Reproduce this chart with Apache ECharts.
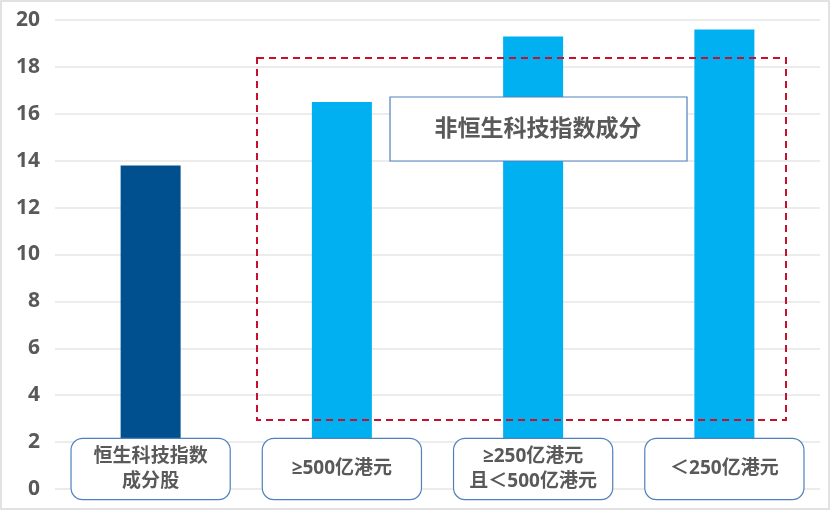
<!DOCTYPE html>
<html><head><meta charset="utf-8">
<script src="https://cdn.jsdelivr.net/npm/echarts@6/dist/echarts.min.js"></script>
<style>html,body{margin:0;padding:0;background:#fff}#c{width:831px;height:512px}</style>
</head><body><div id="c"></div>
<script>
const categories = ['恒生科技指数\n成分股', '≥500亿港元', '≥250亿港元\n且＜500亿港元', '＜250亿港元'];
const values = [13.8, 16.5, 19.3, 19.6];
const barColors = ['#00508F', '#00B0F0', '#00B0F0', '#00B0F0'];
const yTicks = { min: 0, max: 20, interval: 2 };
const boxTitle = '非恒生科技指数成分';

const FONT = '"Open Sans","Noto Sans CJK SC",sans-serif';
const chart = echarts.init(document.getElementById('c'));
chart.setOption({
  animation: false,
  grid: { left: 55, right: 11, top: 20, bottom: 23 },
  xAxis: {
    type: 'category', data: categories, z: 10,
    axisLine: { show: false }, axisTick: { show: false },
    axisLabel: {
      margin: -50, interval: 0,
      color: '#595959', fontSize: 19, fontWeight: 'bold', fontFamily: FONT,
      align: 'center', verticalAlign: 'top',
      backgroundColor: '#fff', borderColor: '#4F81BD', borderWidth: 1.2, borderRadius: 11,
      width: 152, padding: [5, 3, 5, 3],
      formatter: function (v) {
        const lines = v.split('\n');
        return lines.length === 1 ? '{a|' + v + '}' : lines.map(l => '{b|' + l + '}').join('\n');
      },
      rich: {
        a: { lineHeight: 50, fontSize: 19, fontWeight: 'bold', color: '#595959', fontFamily: FONT },
        b: { lineHeight: 25, fontSize: 19, fontWeight: 'bold', color: '#595959', fontFamily: FONT }
      }
    }
  },
  yAxis: {
    type: 'value', min: yTicks.min, max: yTicks.max, interval: yTicks.interval,
    axisLine: { show: false }, axisTick: { show: false },
    splitLine: { lineStyle: { color: '#E6E6E6', width: 1.5 } },
    axisLabel: { color: '#595959', fontSize: 21, fontWeight: 'bold', fontFamily: FONT, margin: 15 }
  },
  series: [{
    type: 'bar', barWidth: 60, z: 2,
    data: values.map((v, i) => ({ value: v, itemStyle: { color: barColors[i] } }))
  }],
  graphic: [
    { type: 'rect', shape: { x: 1, y: 1, width: 828, height: 508 }, style: { fill: 'none', stroke: '#D9D9D9', lineWidth: 1.5 }, z: 0 },
    { type: 'rect', shape: { x: 257, y: 58, width: 529, height: 362 }, style: { fill: 'none', stroke: '#C8102E', lineWidth: 2, lineDash: [7, 5] }, z: 20 },
    { type: 'rect', shape: { x: 390, y: 97, width: 297, height: 64 }, style: { fill: '#fff', stroke: '#4F81BD', lineWidth: 1.2 }, z: 21 },
    { type: 'text', x: 538, y: 129, style: { text: boxTitle, fill: '#595959', font: 'bold 23px ' + FONT, textAlign: 'center', textVerticalAlign: 'middle' }, z: 22 }
  ]
});
</script></body></html>
